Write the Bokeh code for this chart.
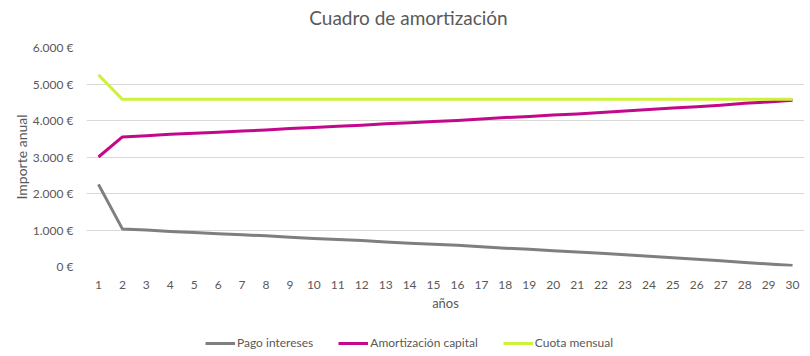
from bokeh.plotting import figure
from bokeh.layouts import column
from bokeh.models import (ColumnDataSource, FactorRange, Range1d, FixedTicker,
                          CustomJSTickFormatter, Legend, LegendItem, Label)
from bokeh.embed import file_html
from bokeh.resources import INLINE

years = [str(i) for i in range(1, 31)]

pago_intereses = [2250, 1030, 1000, 960, 930, 900, 870, 840, 800, 770,
                  740, 710, 670, 640, 610, 580, 540, 500, 470, 430,
                  400, 360, 320, 280, 240, 200, 160, 110, 70, 25]

amortizacion_capital = [3000, 3550, 3580, 3620, 3650, 3680, 3710, 3740, 3780, 3810,
                        3840, 3870, 3910, 3940, 3970, 4000, 4040, 4080, 4110, 4150,
                        4180, 4220, 4260, 4300, 4340, 4380, 4420, 4470, 4510, 4555]

cuota_mensual = [5250, 4580, 4580, 4580, 4580, 4580, 4580, 4580, 4580, 4580,
                 4580, 4580, 4580, 4580, 4580, 4580, 4580, 4580, 4580, 4580,
                 4580, 4580, 4580, 4580, 4580, 4580, 4580, 4580, 4580, 4580]

y_ticks = [0, 1000, 2000, 3000, 4000, 5000, 6000]

series_names = ["Pago intereses", "Amortización capital", "Cuota mensual"]
series_colors = ["#7f7f7f", "#c4088c", "#ccf23c"]
title_text = "Cuadro de amortización"

FONT = "Lato"
TXT = "#595959"
W = 810
LEFT = 86
RIGHT = 6


def strip(height):
    f = figure(width=W, height=height, x_range=Range1d(LEFT, W - RIGHT), y_range=Range1d(0, height),
               output_backend="svg", toolbar_location=None,
               x_axis_location=None, y_axis_location=None,
               min_border_left=LEFT, min_border_right=RIGHT, min_border_top=0, min_border_bottom=0)
    f.outline_line_color = None
    f.grid.visible = False
    f.border_fill_color = "white"
    f.background_fill_color = "white"
    return f


# title strip
top = strip(30)
top.add_layout(Label(x=408, y=13, text=title_text, text_align="center",
                     text_baseline="middle", text_font=FONT, text_font_size="19px",
                     text_color=TXT))

# main chart
src = ColumnDataSource(dict(x=years, a=pago_intereses, b=amortizacion_capital, c=cuota_mensual))

p = figure(width=W, height=300, x_range=FactorRange(*years), y_range=Range1d(0, 6000),
           output_backend="svg", toolbar_location=None,
           min_border_left=LEFT, min_border_right=RIGHT, min_border_top=17, min_border_bottom=64)
p.outline_line_color = None
p.background_fill_color = "white"
p.border_fill_color = "white"

for col, color in zip(["a", "b", "c"], series_colors):
    p.line("x", col, source=src, line_color=color, line_width=3, line_join="round")

p.xgrid.grid_line_color = None
p.ygrid.grid_line_color = "#d9d9d9"
p.ygrid.grid_line_width = 1

p.yaxis.ticker = FixedTicker(ticks=y_ticks)
p.yaxis.formatter = CustomJSTickFormatter(code="""
const s = Math.round(tick).toString().replace(/\\B(?=(\\d{3})+(?!\\d))/g, '.');
return s + ' \u20ac';
""")
for ax in (p.xaxis, p.yaxis):
    ax.axis_line_color = None
    ax.major_tick_line_color = None
    ax.minor_tick_line_color = None
    ax.major_label_text_font = FONT
    ax.major_label_text_font_size = "12px"
    ax.major_label_text_color = TXT
    ax.axis_label_text_font = FONT
    ax.axis_label_text_font_size = "13px"
    ax.axis_label_text_font_style = "normal"
    ax.axis_label_text_color = TXT

p.yaxis.axis_label = "Importe anual"
p.yaxis.axis_label_text_font_size = "14px"
p.yaxis.major_label_standoff = 7
p.yaxis.axis_label_standoff = 0
p.xaxis.axis_label = "años"
p.xaxis.major_label_standoff = 8
p.xaxis.axis_label_standoff = 3
p.x_range.range_padding = 0

# legend strip
lg = strip(26)
proxy_src = ColumnDataSource(dict(x=[W / 2], y=[13]))
proxies = [lg.line("x", "y", source=proxy_src, line_color=c, line_width=3) for c in series_colors]

legend = Legend(items=[LegendItem(label=n, renderers=[r]) for n, r in zip(series_names, proxies)],
                orientation="horizontal", location=(205 - LEFT, 6),
                border_line_color=None, background_fill_alpha=0,
                padding=0, margin=0, spacing=25,
                glyph_width=30, glyph_height=12, label_height=12, label_standoff=2,
                label_text_font=FONT, label_text_font_size="12px", label_text_color=TXT)
lg.add_layout(legend, "center")

layout = column(top, p, lg, spacing=0)

open("out.html", "w").write(file_html(layout, INLINE))
